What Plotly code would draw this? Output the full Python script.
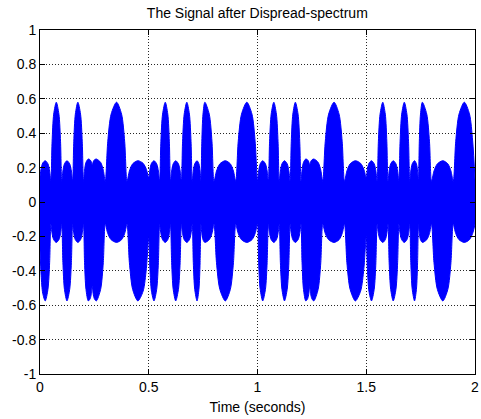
import plotly.graph_objects as go

# ---------------- data ----------------
# envelope valleys (lobe boundaries): time (s), upper value, lower value
valley_t = [0.00, 0.05, 0.10, 0.15, 0.20, 0.24, 0.30, 0.40, 0.50, 0.55, 0.60, 0.65, 0.70, 0.74, 0.80, 0.90,
            1.00, 1.05, 1.10, 1.15, 1.20, 1.24, 1.30, 1.40, 1.50, 1.55, 1.60, 1.65, 1.70, 1.74, 1.80, 1.90, 2.00]
valley_up = [0.15, 0.12, 0.12, 0.12, 0.12, 0.215, 0.12, 0.12, 0.14, 0.12, 0.12, 0.12, 0.12, 0.12, 0.12, 0.12,
             0.12, 0.12, 0.12, 0.12, 0.12, 0.215, 0.12, 0.12, 0.14, 0.12, 0.12, 0.12, 0.12, 0.12, 0.12, 0.12, 0.13]
valley_lo = [-0.28, -0.13, -0.13, -0.13, -0.13, -0.49, -0.13, -0.13, -0.20, -0.13, -0.13, -0.13, -0.13, -0.13, -0.13, -0.13,
             -0.13, -0.13, -0.13, -0.13, -0.13, -0.49, -0.13, -0.13, -0.20, -0.13, -0.13, -0.13, -0.13, -0.13, -0.13, -0.13, -0.13]

# envelope lobe peaks: time (s), upper value, lower value
peak_t = [0.024, 0.075, 0.124, 0.174, 0.222, 0.259, 0.352, 0.450, 0.524, 0.576, 0.624, 0.675, 0.722, 0.758, 0.852, 0.951,
          1.024, 1.075, 1.124, 1.174, 1.222, 1.259, 1.352, 1.450, 1.524, 1.576, 1.624, 1.675, 1.722, 1.758, 1.852, 1.951]
peak_up = [0.24, 0.58, 0.24, 0.58, 0.25, 0.25, 0.58, 0.24, 0.24, 0.58, 0.24, 0.58, 0.24, 0.58, 0.24, 0.58,
           0.24, 0.58, 0.24, 0.58, 0.25, 0.25, 0.58, 0.24, 0.24, 0.58, 0.24, 0.58, 0.24, 0.58, 0.24, 0.58]
peak_lo = [-0.575, -0.235, -0.575, -0.235, -0.575, -0.575, -0.235, -0.575, -0.575, -0.235, -0.575, -0.235, -0.575, -0.235, -0.575, -0.235,
           -0.575, -0.235, -0.575, -0.235, -0.575, -0.575, -0.235, -0.575, -0.575, -0.235, -0.575, -0.235, -0.575, -0.235, -0.575, -0.235]

# shape of a lobe flank (fraction of way valley->peak, fraction of height)
flank_f = [0.22, 0.52]
flank_h = [0.5, 0.85]

x_ticks = [0, 0.5, 1, 1.5, 2]
x_labels = ["0", "0.5", "1", "1.5", "2"]
y_ticks = [1, 0.8, 0.6, 0.4, 0.2, 0, -0.2, -0.4, -0.6, -0.8, -1]
y_labels = ["1", "0.8", "0.6", "0.4", "0.2", "0", "-0.2", "-0.4", "-0.6", "-0.8", "-1"]

title_text = "The Signal after Dispread-spectrum"
xlabel_text = "Time (seconds)"


def envelope(vals_valley, vals_peak):
    ts, vs = [], []
    for i in range(len(peak_t)):
        t0, v0 = valley_t[i], vals_valley[i]
        t1, v1 = valley_t[i + 1], vals_valley[i + 1]
        pt, pv = peak_t[i], vals_peak[i]
        if i == 0:
            ts.append(t0); vs.append(v0)
        for f, h in zip(flank_f, flank_h):
            ts.append(t0 + f * (pt - t0)); vs.append(v0 + h * (pv - v0))
        ts.append(pt); vs.append(pv)
        for f, h in reversed(list(zip(flank_f, flank_h))):
            ts.append(t1 - f * (t1 - pt)); vs.append(v1 + h * (pv - v1))
        ts.append(t1); vs.append(v1)
    return ts, vs


lo_t, lo_v = envelope(valley_lo, peak_lo)
up_t, up_v = envelope(valley_up, peak_up)

BLUE = "#0000FF"
fig = go.Figure()
fig.add_trace(go.Scatter(x=lo_t, y=lo_v, mode="lines",
                         line=dict(color=BLUE, width=1, shape="spline", smoothing=0.8),
                         showlegend=False, hoverinfo="skip"))
fig.add_trace(go.Scatter(x=up_t, y=up_v, mode="lines",
                         line=dict(color=BLUE, width=1, shape="spline", smoothing=0.8),
                         fill="tonexty", fillcolor=BLUE,
                         showlegend=False, hoverinfo="skip"))

FONT = "Liberation Sans, Arial, sans-serif"
axis_common = dict(
    showline=True, linecolor="black", linewidth=1, mirror="ticks",
    ticks="inside", ticklen=5, tickcolor="black", tickwidth=1,
    showgrid=True, gridcolor="rgba(0,0,0,0.85)", griddash="1px,2px", gridwidth=1,
    zeroline=False, automargin=False,
    tickfont=dict(family=FONT, size=14, color="black"),
)

fig.update_layout(
    width=481, height=419,
    margin=dict(l=40, r=6, t=30, b=45),
    paper_bgcolor="white", plot_bgcolor="white",
    font=dict(family=FONT, size=14, color="black"),
    title=dict(text=title_text, x=0.535, xanchor="center", y=1 - 13 / 419, yanchor="middle",
               font=dict(family=FONT, size=14, color="black")),
    xaxis=dict(range=[0, 2], tickvals=x_ticks, ticktext=x_labels,
               title=dict(text=xlabel_text, standoff=8, font=dict(family=FONT, size=14, color="black")),
               **axis_common),
    yaxis=dict(range=[-1, 1], tickvals=y_ticks, ticktext=y_labels, **axis_common),
    showlegend=False,
)

fig.write_html("out.html")
